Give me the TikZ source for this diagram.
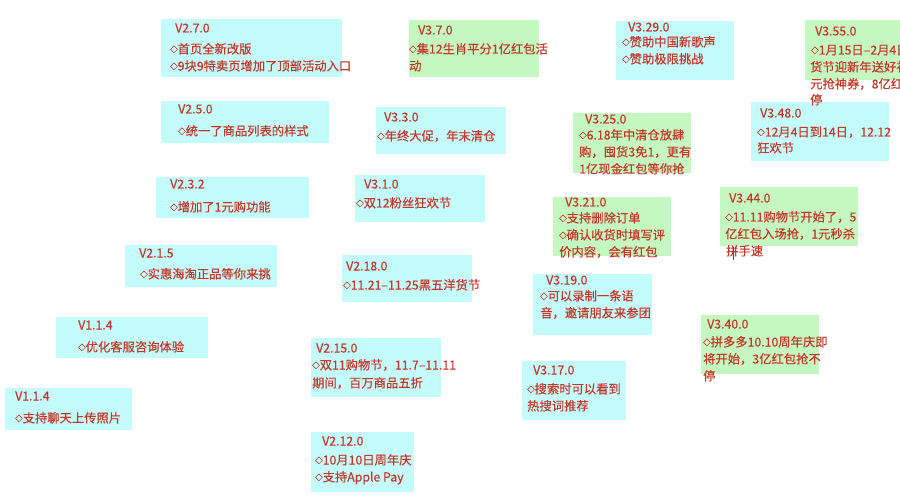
\documentclass[tikz,border=0pt]{standalone}
\usepackage{fontspec}
\setmainfont{Noto Sans CJK SC}[FakeBold=0.4]
\definecolor{cyanbg}{RGB}{196,252,252}
\definecolor{greenbg}{RGB}{196,248,192}
\definecolor{txtred}{RGB}{196,56,42}
\newcommand\dmd{\raisebox{1.3pt}{\fontsize{7.5pt}{7.5pt}\selectfont ◇}}
\tikzset{
  cy/.style={fill=cyanbg},
  gr/.style={fill=greenbg},
  tt/.style={font=\fontsize{12.3pt}{17pt}\selectfont, text=txtred, inner sep=0pt,
    anchor=west, text height=9pt, text depth=0pt},
}
\begin{document}
\begin{tikzpicture}[x=1pt,y=-1pt]
\useasboundingbox (0,0) rectangle (900,500);
\fill[white] (0,0) rectangle (900,500);
\clip (0,0) rectangle (900,500);
% V2.7.0
\fill[cy] (161,19) rectangle (342,77);
\node[tt] (t1) at (175,28) {V2.7.0};
\node[tt] (t1a) at (170,49) {\dmd 首页全新改版};
\node[tt] (t1b) at (170,66) {\dmd 9块9特卖页增加了顶部活动入口};
% V2.5.0
\fill[cy] (161,101) rectangle (329,143);
\node[tt] (t2) at (178,109) {V2.5.0};
\node[tt] (t2a) at (178,131) {\dmd 统一了商品列表的样式};
% V2.3.2
\fill[cy] (156,177) rectangle (309,218);
\node[tt] (t3) at (170,184) {V2.3.2};
\node[tt] (t3a) at (170,207) {\dmd 增加了1元购功能};
% V2.1.5
\fill[cy] (125,245) rectangle (277,287);
\node[tt] (t4) at (139,253) {V2.1.5};
\node[tt] (t4a) at (140,274) {\dmd 实惠海淘正品等你来挑};
% V1.1.4 a
\fill[cy] (56,317) rectangle (208,358);
\node[tt] (t5) at (78,325) {V1.1.4};
\node[tt] (t5a) at (78,347) {\dmd 优化客服咨询体验};
% V1.1.4 b
\fill[cy] (5,388) rectangle (132,430);
\node[tt] (t6) at (15,396) {V1.1.4};
\node[tt] (t6a) at (15,418) {\dmd 支持聊天上传照片};
% V3.7.0
\fill[gr] (409,20) rectangle (539,77);
\node[tt] (t7) at (418,30) {V3.7.0};
\node[tt] (t7a) at (409,49) {\dmd 集12生肖平分1亿红包活};
\node[tt] (t7b) at (409,66) {动};
% V3.3.0
\fill[cy] (376,107) rectangle (506,154);
\node[tt] (t8) at (384,117) {V3.3.0};
\node[tt] (t8a) at (377,136) {\dmd 年终大促，年末清仓};
% V3.1.0
\fill[cy] (355,175) rectangle (485,222);
\node[tt] (t9) at (364,184) {V3.1.0};
\node[tt] (t9a) at (356,203) {\dmd 双12粉丝狂欢节};
% V2.18.0
\fill[cy] (342,255) rectangle (472,302);
\node[tt] (t10) at (346,266) {V2.18.0};
\node[tt] (t10a) at (343,285) {\dmd 11.21–11.25黑五洋货节};
% V2.15.0
\fill[cy] (311,338) rectangle (441,397);
\node[tt] (t11) at (316,348) {V2.15.0};
\node[tt] (t11a) at (312,365) {\dmd 双11购物节，11.7–11.11};
\node[tt] (t11b) at (312,383) {期间，百万商品五折};
% V2.12.0
\fill[cy] (311,432) rectangle (414,492);
\node[tt] (t12) at (322,441) {V2.12.0};
\node[tt] (t12a) at (315,460) {\dmd 10月10日周年庆};
\node[tt] (t12b) at (315,477) {\dmd 支持Apple Pay};
% V3.29.0
\fill[cy] (616,21) rectangle (734,80);
\node[tt] (t13) at (628,27) {V3.29.0};
\node[tt] (t13a) at (622,42) {\dmd 赞助中国新歌声};
\node[tt] (t13b) at (622,59) {\dmd 赞助极限挑战};
% V3.25.0
\fill[gr] (573,113) rectangle (691,173);
\node[tt] (t14) at (585,119) {V3.25.0};
\node[tt] (t14a) at (579,135) {\dmd 6.18年中清仓放肆};
\node[tt] (t14b) at (579,152) {购，囤货3免1，更有};
\node[tt] (t14c) at (579,169) {1亿现金红包等你抢};
% V3.21.0
\fill[gr] (553,197) rectangle (671,256);
\node[tt] (t15) at (565,202) {V3.21.0};
\node[tt] (t15a) at (559,218) {\dmd 支持删除订单};
\node[tt] (t15b) at (559,235) {\dmd 确认收货时填写评};
\node[tt] (t15c) at (559,252) {价内容，会有红包};
% V3.19.0
\fill[cy] (533,274) rectangle (652,335);
\node[tt] (t16) at (546,280) {V3.19.0};
\node[tt] (t16a) at (540,296) {\dmd 可以录制一条语};
\node[tt] (t16b) at (540,313) {音，邀请朋友来参团};
% V3.17.0
\fill[cy] (522,361) rectangle (626,420);
\node[tt] (t17) at (533,370) {V3.17.0};
\node[tt] (t17a) at (527,389) {\dmd 搜索时可以看到};
\node[tt] (t17b) at (527,406) {热搜词推荐};
% V3.40.0
\fill[gr] (701,315) rectangle (819,374);
\node[tt] (t18) at (707,324) {V3.40.0};
\node[tt] (t18a) at (703,342) {\dmd 拼多多10.10周年庆即};
\node[tt] (t18b) at (703,359) {将开始，3亿红包抢不};
\node[tt] (t18c) at (703,376) {停};
% V3.44.0
\fill[gr] (720,187) rectangle (858,246);
\node[tt] (t19) at (729,198) {V3.44.0};
\node[tt] (t19a) at (725,217) {\dmd 11.11购物节开始了，5};
\node[tt] (t19b) at (725,234) {亿红包入场抢，1元秒杀};
\node[tt] (t19c) at (726,251) {拼手速};
\draw[black!70, line width=0.8pt] (733,247) -- (733,260);
% V3.55.0
\fill[gr] (805,20) rectangle (905,80);
\node[tt] (t21) at (815,31) {V3.55.0};
\node[tt] (t21a) at (811,50) {\dmd 1月15日–2月4日年};
\node[tt] (t21b) at (810,67) {货节迎新年送好礼，1};
\node[tt] (t21c) at (810,84) {元抢神券，8亿红包抢不};
% V3.48.0
\fill[cy] (751,102) rectangle (889,161);
\node[tt] (t20) at (760,113) {V3.48.0};
\node[tt] (t20a) at (757,132) {\dmd 12月4日到14日，12.12};
\node[tt] (t20b) at (757,148) {狂欢节};
\node[tt] (t21d) at (810,100) {停};
\end{tikzpicture}
\end{document}
